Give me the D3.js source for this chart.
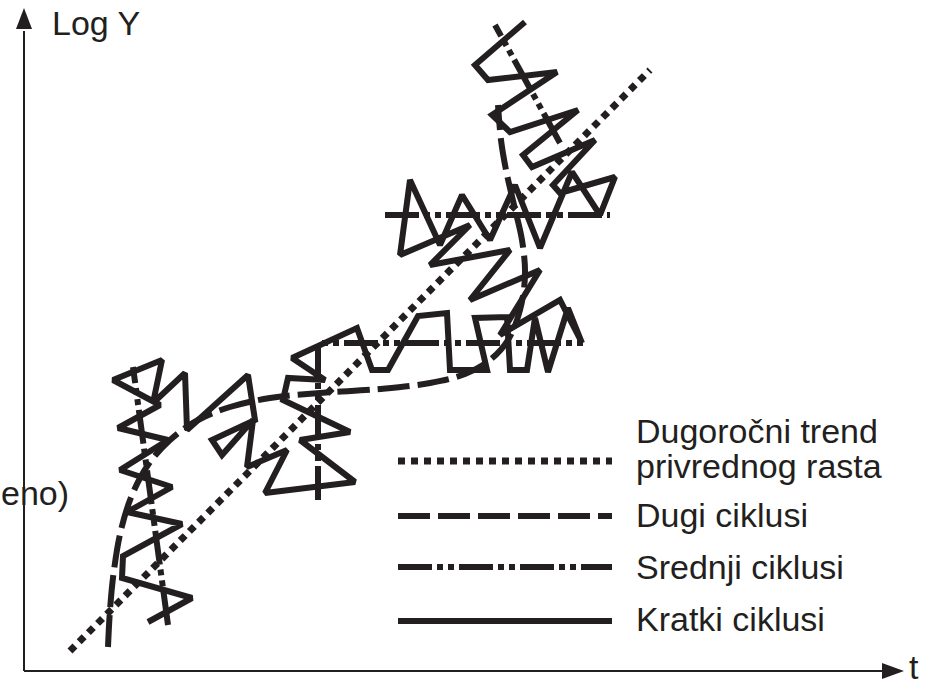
<!DOCTYPE html>
<html><head><meta charset="utf-8">
<script src="https://cdn.jsdelivr.net/npm/d3@7"></script>
<style>html,body{margin:0;padding:0;background:#fff;}svg{display:block;}</style>
</head><body>
<svg id="chart" width="925" height="687"></svg>
<script>
// ---- data (t units, logY units) ----
const trendPts = [[46,20],[626,601]];
const longCycle = [[84,24],[86,61],[90,101],[97,141],[108,176],[124,206],[146,231],[174,251],[206,264],[246,273],[296,278],[356,282],[406,288],[441,297],[466,311],[484,331],[496,361],[501,396],[498,431],[490,466],[482,501],[477,531],[474,566]];
const mediumCycles = [
  [[144,46],[109,304]],
  [[294,171],[294,328],[561,328]],
  [[361,456],[586,456]],
  [[536,528],[471,646]]
];
const shortCycle = [[124,49],[168,73],[98,93],[99,115],[158,147],[103,159],[148,184],[96,201],[144,231],[94,243],[136,266],[89,291],[138,311],[129,268],
  [161,298],[163,241],[224,296],[231,251],[188,231],[198,216],[229,251],[223,204],[263,221],[241,178],[331,189],[276,231],[326,239],[259,271],[264,293],[301,291],[268,313],[333,343],
  [348,301],[364,301],[394,355],[423,358],[426,301],[463,301],[451,353],[483,354],[486,301],[503,301],[511,353],[524,299],[544,363],[558,328],[536,371],
  [476,336],[516,401],[446,371],[486,421],[406,406],[446,446],[376,416],
  [386,491],[416,426],[438,476],[466,431],[491,486],[516,423],[548,499],[576,456],[591,494],
  [536,478],[529,486],[571,531],[508,504],[499,516],[554,561],[486,539],[468,556],[533,599],[464,591],[451,606],[501,649]];
const legendLabels = [["Dugoročni trend","privrednog rasta"],["Dugi ciklusi"],["Srednji ciklusi"],["Kratki ciklusi"]];
const legendKeys = ["trend","long","medium","short"];
const axisLabels = {y:"Log Y", x:"t"};
const sideNote = "eno)";

// ---- drawing ----
const ink = "#231f20";
const font = "Liberation Sans, Arial, sans-serif";
const svg = d3.select("#chart");
const x = d3.scaleLinear().domain([0, 880]).range([24, 904]);
const y = d3.scaleLinear().domain([0, 661]).range([671, 10]);

const styles = {
  trend:  {w:7, dash:"7,6"},
  long:   {w:6, dash:"32,8"},
  medium: {w:6, dash:"34,5,6,5,6,5"},
  short:  {w:6, dash:null}
};

const line = d3.line().x(d => x(d[0])).y(d => y(d[1]));
const curve = d3.line().x(d => x(d[0])).y(d => y(d[1])).curve(d3.curveCatmullRom.alpha(0.5));

// axes
svg.append("line").attr("x1", x(0)).attr("y1", y(0)).attr("x2", x(0)).attr("y2", y(640))
  .attr("stroke", ink).attr("stroke-width", 2);
svg.append("path").attr("d", `M${x(0)},${y(663)} L${x(0)-8},${y(642)} L${x(0)+8},${y(642)} Z`).attr("fill", ink);
svg.append("line").attr("x1", x(0)).attr("y1", y(0)).attr("x2", x(860)).attr("y2", y(0))
  .attr("stroke", ink).attr("stroke-width", 2);
svg.append("path").attr("d", `M${x(880)},${y(0)} L${x(858)},${y(0)-8} L${x(858)},${y(0)+8} Z`).attr("fill", ink);

svg.append("text").attr("x", x(28)).attr("y", y(636)).text(axisLabels.y)
  .attr("font-family",font).attr("font-size",34).attr("fill",ink);
svg.append("text").attr("x", x(885)).attr("y", y(-8)).text(axisLabels.x)
  .attr("font-family",font).attr("font-size",34).attr("fill",ink);
svg.append("text").attr("x", 1).attr("y", y(166)).text(sideNote)
  .attr("font-family",font).attr("font-size",34).attr("fill",ink);

const g = svg.append("g").attr("fill","none").attr("stroke",ink);

// short cycles
g.append("path").attr("d", line(shortCycle)).attr("stroke-width", styles.short.w)
  .attr("stroke-linejoin","miter").attr("stroke-miterlimit",2);
// medium cycles
mediumCycles.forEach(seg => {
  g.append("path").attr("d", line(seg)).attr("stroke-width", styles.medium.w)
    .attr("stroke-dasharray", styles.medium.dash);
});
// long cycle
g.append("path").attr("d", curve(longCycle)).attr("stroke-width", styles.long.w)
  .attr("stroke-dasharray", styles.long.dash);
// trend
g.append("path").attr("d", line(trendPts)).attr("stroke-width", styles.trend.w)
  .attr("stroke-dasharray", styles.trend.dash);

// legend
const legY = [461, 516, 567, 621];
const legTextY = [[443, 478], [527], [579], [631]];
legendKeys.forEach((k, i) => {
  g.append("line").attr("x1", 398).attr("x2", 612).attr("y1", legY[i]).attr("y2", legY[i])
    .attr("stroke-width", styles[k].w).attr("stroke-dasharray", styles[k].dash);
  legendLabels[i].forEach((t, j) => {
    svg.append("text").attr("x", 636).attr("y", legTextY[i][j]).text(t)
      .attr("font-family",font).attr("font-size",34).attr("fill",ink);
  });
});
</script>
</body></html>
